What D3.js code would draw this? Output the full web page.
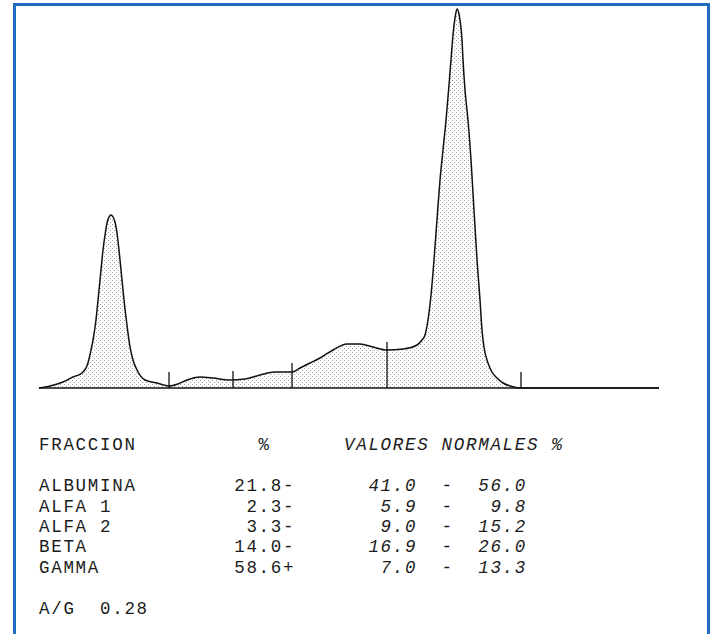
<!DOCTYPE html>
<html>
<head>
<meta charset="utf-8">
<script src="https://cdn.jsdelivr.net/npm/d3@7"></script>
<style>
  html, body { margin: 0; padding: 0; background: #ffffff; }
  svg { display: block; }
  text { font-family: "Liberation Mono", "DejaVu Sans Mono", monospace; fill: #1c1c1c; white-space: pre; }
</style>
</head>
<body>
<svg id="chart" width="714" height="634"></svg>
<script>
// Densitometry trace of the serum protein electrophoresis strip
// migration: relative position along the strip (0-100)
// density: relative absorbance (gamma peak = 100)
const migration = [0, 1.77, 3.87, 5.48, 6.94, 7.90, 8.39, 8.71, 9.19, 9.52, 10.0, 10.32, 10.65, 10.97, 11.29, 11.61, 11.94, 12.26, 12.58, 12.90, 13.23, 13.71, 14.19, 14.68, 15.16, 15.81, 17.10, 19.03, 20.97, 22.42, 23.87, 25.97, 28.06, 30.81, 33.23, 35.65, 38.06, 40.81, 42.10, 43.71, 45.32, 47.42, 49.68, 51.77, 53.87, 56.13, 58.71, 60.97, 61.77, 62.26, 62.74, 63.23, 63.71, 64.19, 64.68, 65.16, 65.65, 66.13, 66.45, 66.77, 67.10, 67.42, 67.74, 67.90, 68.23, 68.39, 68.71, 69.19, 69.68, 70.16, 70.65, 71.13, 71.45, 71.77, 72.42, 73.06, 73.87, 74.84, 75.97, 77.74, 100];
const density   = [0, 0.53, 1.58, 2.90, 3.96, 6.60, 10.03, 12.66, 17.94, 23.22, 31.13, 36.41, 40.37, 43.54, 45.12, 45.65, 45.12, 43.80, 40.90, 36.41, 31.13, 23.22, 16.62, 10.82, 7.39, 4.75, 2.11, 1.32, 0.53, 1.06, 2.11, 2.90, 2.64, 2.11, 2.37, 3.43, 4.22, 4.22, 5.28, 6.60, 7.92, 10.03, 11.61, 11.61, 10.82, 10.03, 10.29, 11.35, 12.66, 13.98, 17.94, 24.54, 33.77, 44.33, 54.88, 62.80, 70.71, 79.95, 86.54, 93.14, 97.63, 100, 98.68, 97.10, 91.82, 86.54, 78.63, 70.71, 60.16, 46.97, 33.77, 23.22, 15.30, 10.82, 6.60, 4.22, 2.64, 1.32, 0.53, 0, 0];

// Fraction separators on the trace (position, marker top)
const boundaryPos = [20.97, 31.29, 40.81, 56.13, 77.74];
const boundaryTop = [4.22, 4.49, 6.60, 12.14, 4.22];

// Report table
const fractions   = ["ALBUMINA", "ALFA 1", "ALFA 2", "BETA", "GAMMA"];
const percents    = ["21.8", "2.3", "3.3", "14.0", "58.6"];
const flags       = ["-", "-", "-", "-", "+"];
const normalLow   = ["41.0", "5.9", "9.0", "16.9", "7.0"];
const normalHigh  = ["56.0", "9.8", "15.2", "26.0", "13.3"];
const headers     = ["FRACCION", "%", "VALORES NORMALES %"];
const ratioLabel  = "A/G";
const ratioValue  = "0.28";

const svg = d3.select("#chart");

// stipple fill under the curve
const defs = svg.append("defs");
const pat = defs.append("pattern")
  .attr("id", "stipple")
  .attr("patternUnits", "userSpaceOnUse")
  .attr("width", 4).attr("height", 4);
pat.append("rect").attr("x", 0).attr("y", 0).attr("width", 1).attr("height", 1).attr("fill", "#a0a0a0");
pat.append("rect").attr("x", 2).attr("y", 2).attr("width", 1).attr("height", 1).attr("fill", "#a0a0a0");

// frame
svg.append("rect")
  .attr("x", 14.5).attr("y", 4.5)
  .attr("width", 694).attr("height", 700)
  .attr("fill", "none")
  .attr("stroke", "#1f6cc0")
  .attr("stroke-width", 3);

const x = d3.scaleLinear().domain([0, 100]).range([39, 659]);
const y = d3.scaleLinear().domain([0, 100]).range([388, 9]);

const pts = migration.map((m, i) => [m, density[i]]);

const area = d3.area()
  .x(d => x(d[0]))
  .y0(y(0))
  .y1(d => y(d[1]))
  .curve(d3.curveMonotoneX);

const line = d3.line()
  .x(d => x(d[0]))
  .y(d => y(d[1]))
  .curve(d3.curveMonotoneX);

svg.append("path")
  .datum(pts)
  .attr("d", area)
  .attr("fill", "url(#stipple)");

// baseline
svg.append("line")
  .attr("x1", x(0)).attr("x2", x(100))
  .attr("y1", y(0)).attr("y2", y(0))
  .attr("stroke", "#111").attr("stroke-width", 1.6);

svg.append("path")
  .datum(pts)
  .attr("d", line)
  .attr("fill", "none")
  .attr("stroke", "#111")
  .attr("stroke-width", 1.5)
  .attr("stroke-linejoin", "round");

// separators
svg.selectAll("line.sep")
  .data(boundaryPos)
  .join("line")
  .attr("class", "sep")
  .attr("x1", d => x(d)).attr("x2", d => x(d))
  .attr("y1", y(0))
  .attr("y2", (d, i) => y(boundaryTop[i]))
  .attr("stroke", "#111").attr("stroke-width", 1.3);

// text table laid out on a fixed character grid
const fs = 17.5;
const cell = 12.2;                      // grid pitch per character
const spacing = cell - fs * 0.6;        // extra tracking to reach the pitch
const left = 39;
const col = c => left + c * cell;
const rowY = [491, 511.5, 532, 552, 572.5];

const txt = svg.append("g")
  .attr("font-size", fs)
  .attr("letter-spacing", spacing);

// left-anchored cell text; right-aligned fields start at (endCol - length)
const put = (s, c, yy, italic) =>
  txt.append("text")
    .attr("x", col(c)).attr("y", yy)
    .attr("font-style", italic ? "italic" : null)
    .text(s);
const putRight = (s, endCol, yy, italic) => put(s, endCol - s.length, yy, italic);

put(headers[0], 0, 450);
put(headers[1], 18, 450);
put(headers[2], 25, 450, true);

fractions.forEach((f, i) => {
  const yy = rowY[i];
  put(f, 0, yy);
  putRight(percents[i] + flags[i], 21, yy);
  putRight(normalLow[i], 31, yy, true);
  put("-", 33, yy, true);
  putRight(normalHigh[i], 40, yy, true);
});

put(ratioLabel, 0, 614);
put(ratioValue, 5, 614);
</script>
</body>
</html>
